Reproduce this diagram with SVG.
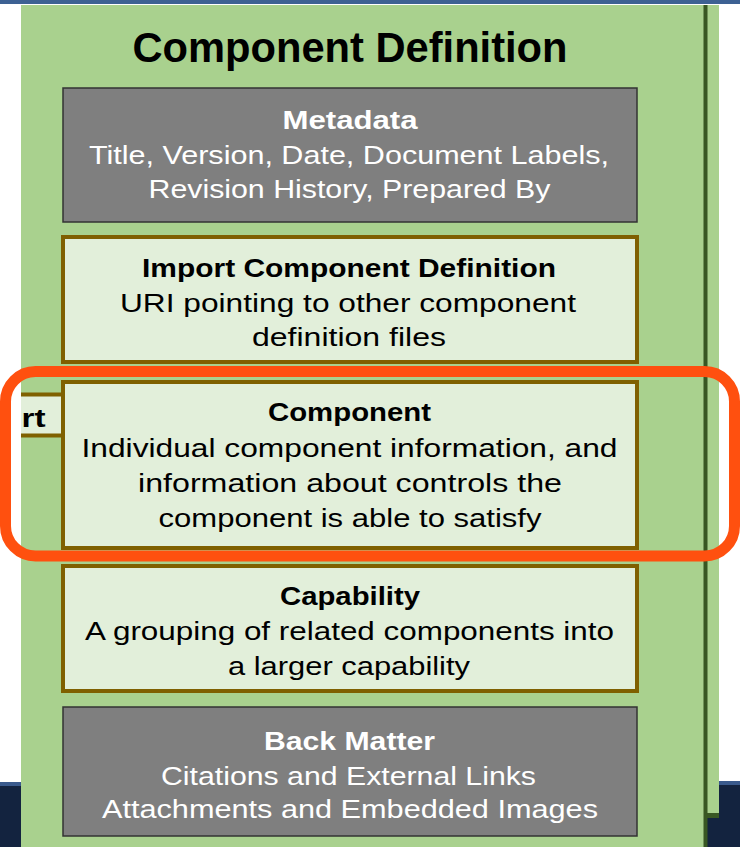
<svg xmlns="http://www.w3.org/2000/svg" width="740" height="847" viewBox="0 0 740 847">
  <style>
    text { font-family: "Liberation Sans", Arial, sans-serif; text-anchor: middle; }
    .title { font-size: 42px; font-weight: bold; fill: #000; }
    .hw { font-size: 26px; font-weight: bold; fill: #fff; }
    .bw { font-size: 26px; fill: #fff; }
    .hb { font-size: 26px; font-weight: bold; fill: #000; }
    .bb { font-size: 26px; fill: #000; }
    .gray { fill: #7f7f7f; stroke: #333; stroke-width: 1.5; }
    .light { fill: #e2efda; stroke: #7f6000; stroke-width: 4; }
  </style>
  <rect x="0" y="0" width="740" height="847" fill="#ffffff"/>
  <!-- top blue band -->
  <rect x="0" y="0" width="740" height="4" fill="#3d6193"/>
  <!-- bottom navy bands -->
  <rect x="0" y="782" width="21" height="65" fill="#13233f"/>
  <rect x="0" y="782" width="21" height="4" fill="#3a5a8c"/>
  <rect x="719" y="781" width="21" height="66" fill="#13233f"/>
  <rect x="719" y="781" width="21" height="4" fill="#3a5a8c"/>

  <!-- green panel -->
  <g id="panel">
    <rect x="21" y="5" width="698" height="842" fill="#a9d18e"/>
    <rect x="707" y="816" width="12" height="31" fill="#13233f"/>
    <rect x="707" y="813" width="12" height="5" fill="#385723"/>
    <rect x="703.5" y="5" width="4" height="842" fill="#385723"/>
    <text class="title" x="350" y="62" textLength="435" lengthAdjust="spacingAndGlyphs">Component Definition</text>
  </g>

  <g id="metadata">
    <rect class="gray" x="63" y="88" width="574" height="134"/>
    <text class="hw" x="350" y="129" textLength="135" lengthAdjust="spacingAndGlyphs">Metadata</text>
    <text class="bw" x="349" y="164" textLength="520" lengthAdjust="spacingAndGlyphs">Title, Version, Date, Document Labels,</text>
    <text class="bw" x="349.5" y="198" textLength="402" lengthAdjust="spacingAndGlyphs">Revision History, Prepared By</text>
  </g>

  <g id="import">
    <rect class="light" x="63" y="237" width="574" height="125"/>
    <text class="hb" x="349" y="277" textLength="414" lengthAdjust="spacingAndGlyphs">Import Component Definition</text>
    <text class="bb" x="348" y="312" textLength="456" lengthAdjust="spacingAndGlyphs">URI pointing to other component</text>
    <text class="bb" x="349" y="346" textLength="194" lengthAdjust="spacingAndGlyphs">definition files</text>
  </g>

  <g id="rt-box">
    <rect x="21" y="394.5" width="42" height="41" fill="#e2efda"/>
    <path d="M21 394.5 H63 M21 435.5 H63" stroke="#7f6000" stroke-width="4" fill="none"/>
    <text class="hb" x="33.5" y="426.5" textLength="24" lengthAdjust="spacingAndGlyphs">rt</text>
  </g>

  <g id="component">
    <rect class="light" x="63" y="382" width="574" height="166"/>
    <text class="hb" x="349.5" y="421" textLength="163" lengthAdjust="spacingAndGlyphs">Component</text>
    <text class="bb" x="349.5" y="457" textLength="536" lengthAdjust="spacingAndGlyphs">Individual component information, and</text>
    <text class="bb" x="350" y="492" textLength="424" lengthAdjust="spacingAndGlyphs">information about controls the</text>
    <text class="bb" x="350" y="527" textLength="383" lengthAdjust="spacingAndGlyphs">component is able to satisfy</text>
  </g>

  <g id="capability">
    <rect class="light" x="63" y="566" width="574" height="125"/>
    <text class="hb" x="350" y="605" textLength="140" lengthAdjust="spacingAndGlyphs">Capability</text>
    <text class="bb" x="349.5" y="640" textLength="529" lengthAdjust="spacingAndGlyphs">A grouping of related components into</text>
    <text class="bb" x="349" y="675" textLength="242" lengthAdjust="spacingAndGlyphs">a larger capability</text>
  </g>

  <g id="back-matter">
    <rect class="gray" x="63" y="707" width="574" height="129"/>
    <text class="hw" x="349.5" y="750" textLength="171" lengthAdjust="spacingAndGlyphs">Back Matter</text>
    <text class="bw" x="348.5" y="785" textLength="375" lengthAdjust="spacingAndGlyphs">Citations and External Links</text>
    <text class="bw" x="350" y="818" textLength="496" lengthAdjust="spacingAndGlyphs">Attachments and Embedded Images</text>
  </g>

  <g id="connectors"></g>

  <g id="highlight">
    <rect x="5.5" y="371.5" width="729" height="184.5" rx="30" ry="30" fill="none" stroke="#ff500f" stroke-width="11"/>
  </g>
</svg>
